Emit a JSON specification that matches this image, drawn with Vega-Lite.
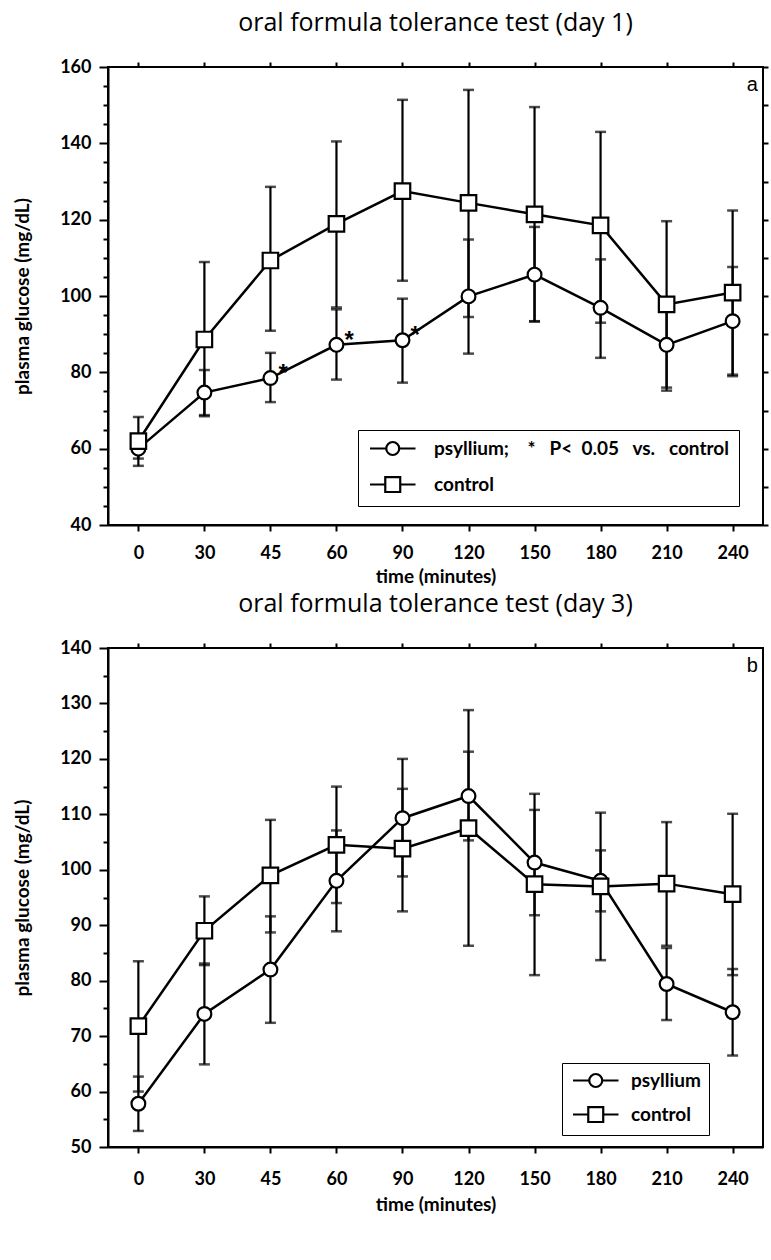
{
  "$schema": "https://vega.github.io/schema/vega-lite/v6.json",
  "padding": {"left": 12, "top": 10, "right": 5, "bottom": 5},
  "spacing": 4,
  "resolve": {"scale": {"shape": "independent"}, "legend": {"shape": "independent"}},
  "config": {
    "view": {"stroke": "black", "strokeWidth": 2},
    "font": "Lato",
    "title": {"font": "Open Sans", "fontSize": 25, "fontWeight": "normal", "color": "black", "offset": 22},
    "axis": {"domainColor": "black", "domainWidth": 2, "tickColor": "black", "tickWidth": 2, "labelColor": "black", "titleColor": "black", "grid": false, "labelFont": "Lato", "labelFontWeight": "bold", "labelFontSize": 18, "titleFont": "Lato", "titleFontWeight": "bold", "titleFontSize": 19}
  },
  "datasets": {
    "d": [
      {"panel": "a", "group": "psyllium", "time": 0, "mean": 60.0, "lo": 57.4, "hi": 62.6, "star": false},
      {"panel": "a", "group": "psyllium", "time": 30, "mean": 74.7, "lo": 68.8, "hi": 80.6, "star": false},
      {"panel": "a", "group": "psyllium", "time": 45, "mean": 78.5, "lo": 72.2, "hi": 85.1, "star": true},
      {"panel": "a", "group": "psyllium", "time": 60, "mean": 87.2, "lo": 78.1, "hi": 96.5, "star": true},
      {"panel": "a", "group": "psyllium", "time": 90, "mean": 88.4, "lo": 77.3, "hi": 99.3, "star": true},
      {"panel": "a", "group": "psyllium", "time": 120, "mean": 99.9, "lo": 84.9, "hi": 114.8, "star": false},
      {"panel": "a", "group": "psyllium", "time": 150, "mean": 105.6, "lo": 93.3, "hi": 118.1, "star": false},
      {"panel": "a", "group": "psyllium", "time": 180, "mean": 96.9, "lo": 83.8, "hi": 109.6, "star": false},
      {"panel": "a", "group": "psyllium", "time": 210, "mean": 87.2, "lo": 75.2, "hi": 99.2, "star": false},
      {"panel": "a", "group": "psyllium", "time": 240, "mean": 93.4, "lo": 79.0, "hi": 107.6, "star": false},
      {"panel": "a", "group": "control", "time": 0, "mean": 62.0, "lo": 55.5, "hi": 68.3, "star": false},
      {"panel": "a", "group": "control", "time": 30, "mean": 88.6, "lo": 68.5, "hi": 108.9, "star": false},
      {"panel": "a", "group": "control", "time": 45, "mean": 109.3, "lo": 90.9, "hi": 128.6, "star": false},
      {"panel": "a", "group": "control", "time": 60, "mean": 118.9, "lo": 97.0, "hi": 140.5, "star": false},
      {"panel": "a", "group": "control", "time": 90, "mean": 127.5, "lo": 104.0, "hi": 151.4, "star": false},
      {"panel": "a", "group": "control", "time": 120, "mean": 124.4, "lo": 94.5, "hi": 154.0, "star": false},
      {"panel": "a", "group": "control", "time": 150, "mean": 121.4, "lo": 93.4, "hi": 149.5, "star": false},
      {"panel": "a", "group": "control", "time": 180, "mean": 118.5, "lo": 93.0, "hi": 143.0, "star": false},
      {"panel": "a", "group": "control", "time": 210, "mean": 97.8, "lo": 76.0, "hi": 119.6, "star": false},
      {"panel": "a", "group": "control", "time": 240, "mean": 100.9, "lo": 79.4, "hi": 122.4, "star": false},
      {"panel": "b", "group": "psyllium", "time": 0, "mean": 57.8, "lo": 52.9, "hi": 62.7, "star": false},
      {"panel": "b", "group": "psyllium", "time": 30, "mean": 74.0, "lo": 64.9, "hi": 83.1, "star": false},
      {"panel": "b", "group": "psyllium", "time": 45, "mean": 82.0, "lo": 72.4, "hi": 91.6, "star": false},
      {"panel": "b", "group": "psyllium", "time": 60, "mean": 98.0, "lo": 88.9, "hi": 107.1, "star": false},
      {"panel": "b", "group": "psyllium", "time": 90, "mean": 109.3, "lo": 98.8, "hi": 120.0, "star": false},
      {"panel": "b", "group": "psyllium", "time": 120, "mean": 113.3, "lo": 105.3, "hi": 121.3, "star": false},
      {"panel": "b", "group": "psyllium", "time": 150, "mean": 101.3, "lo": 91.8, "hi": 110.8, "star": false},
      {"panel": "b", "group": "psyllium", "time": 180, "mean": 98.0, "lo": 92.5, "hi": 103.5, "star": false},
      {"panel": "b", "group": "psyllium", "time": 210, "mean": 79.4, "lo": 72.9, "hi": 85.9, "star": false},
      {"panel": "b", "group": "psyllium", "time": 240, "mean": 74.3, "lo": 66.5, "hi": 82.1, "star": false},
      {"panel": "b", "group": "control", "time": 0, "mean": 71.8, "lo": 60.0, "hi": 83.5, "star": false},
      {"panel": "b", "group": "control", "time": 30, "mean": 89.0, "lo": 82.8, "hi": 95.2, "star": false},
      {"panel": "b", "group": "control", "time": 45, "mean": 99.0, "lo": 88.7, "hi": 109.0, "star": false},
      {"panel": "b", "group": "control", "time": 60, "mean": 104.5, "lo": 94.0, "hi": 115.0, "star": false},
      {"panel": "b", "group": "control", "time": 90, "mean": 103.8, "lo": 92.5, "hi": 114.6, "star": false},
      {"panel": "b", "group": "control", "time": 120, "mean": 107.5, "lo": 86.3, "hi": 128.8, "star": false},
      {"panel": "b", "group": "control", "time": 150, "mean": 97.4, "lo": 81.0, "hi": 113.7, "star": false},
      {"panel": "b", "group": "control", "time": 180, "mean": 97.0, "lo": 83.7, "hi": 110.3, "star": false},
      {"panel": "b", "group": "control", "time": 210, "mean": 97.5, "lo": 86.3, "hi": 108.6, "star": false},
      {"panel": "b", "group": "control", "time": 240, "mean": 95.6, "lo": 81.0, "hi": 110.1, "star": false}
    ]
  },
  "vconcat": [
    {
      "width": 655,
      "height": 458,
      "title": {"text": "oral formula tolerance test (day 1)"},
      "data": {"name": "d"},
      "transform": [{"filter": "datum.panel === 'a'"}],
      "resolve": {"axis": {"x": "independent", "y": "independent"}},
      "layer": [
        {
          "mark": {"type": "point", "opacity": 0},
          "encoding": {
            "x": {"field": "time", "type": "ordinal", "scale": {"type": "point", "padding": 0.46},
              "axis": {"title": "time (minutes)", "labelAngle": 0, "tickSize": 6, "labelPadding": 13, "titlePadding": 5}},
            "y": {"field": "mean", "type": "quantitative", "scale": {"domain": [40, 160]},
              "axis": {"orient": "left", "title": "plasma glucose (mg/dL)", "values": [40, 60, 80, 100, 120, 140, 160], "tickSize": 9, "labelPadding": 8, "titlePadding": 27}}
          }
        },
        {
          "mark": {"type": "point", "opacity": 0},
          "encoding": {
            "y": {"field": "mean", "type": "quantitative", "scale": {"domain": [40, 160]},
              "axis": {"orient": "left", "labels": false, "title": null, "domain": false, "tickSize": 5, "values": [45, 50, 55, 65, 70, 75, 85, 90, 95, 105, 110, 115, 125, 130, 135, 145, 150, 155]}}
          }
        },
        {
          "mark": {"type": "point", "opacity": 0},
          "encoding": {
            "x": {"field": "time", "type": "ordinal", "scale": {"type": "point", "padding": 0.46},
              "axis": {"orient": "top", "labels": false, "title": null, "domain": false, "tickSize": 5}},
            "y": {"field": "mean", "type": "quantitative", "scale": {"domain": [40, 160]},
              "axis": {"orient": "right", "labels": false, "title": null, "domain": false, "tickSize": 5, "values": [40, 50, 60, 70, 80, 90, 100, 110, 120, 130, 140, 150, 160]}}
          }
        },
        {
          "encoding": {
            "x": {"field": "time", "type": "ordinal", "scale": {"type": "point", "padding": 0.46}, "axis": null}
          },
          "layer": [
            {
              "mark": {"type": "rule", "color": "black", "strokeWidth": 2.2},
              "encoding": {
                "y": {"field": "lo", "type": "quantitative", "scale": {"domain": [40, 160]}, "axis": null},
                "y2": {"field": "hi"}
              }
            },
            {
              "mark": {"type": "tick", "color": "black", "thickness": 2.5, "size": 11, "orient": "horizontal"},
              "encoding": {"y": {"field": "lo", "type": "quantitative", "scale": {"domain": [40, 160]}, "axis": null}}
            },
            {
              "mark": {"type": "tick", "color": "black", "thickness": 2.5, "size": 11, "orient": "horizontal"},
              "encoding": {"y": {"field": "hi", "type": "quantitative", "scale": {"domain": [40, 160]}, "axis": null}}
            },
            {
              "mark": {"type": "line", "color": "black", "strokeWidth": 2.5},
              "encoding": {"y": {"field": "mean", "type": "quantitative", "scale": {"domain": [40, 160]}, "axis": null}, "detail": {"field": "group", "type": "nominal"}}
            },
            {
              "transform": [{"filter": "datum.group === 'psyllium'"}],
              "mark": {"type": "point", "shape": "circle", "filled": true, "fill": "white", "stroke": "black", "strokeWidth": 2.2, "size": 190, "opacity": 1},
              "encoding": {"y": {"field": "mean", "type": "quantitative", "scale": {"domain": [40, 160]}, "axis": null}}
            },
            {
              "transform": [{"filter": "datum.group === 'control'"}],
              "mark": {"type": "point", "shape": "square", "filled": true, "fill": "white", "stroke": "black", "strokeWidth": 2.2, "size": 240, "opacity": 1},
              "encoding": {"y": {"field": "mean", "type": "quantitative", "scale": {"domain": [40, 160]}, "axis": null}}
            },
            {
              "transform": [{"filter": "datum.star"}],
              "mark": {"type": "text", "font": "Liberation Sans", "fontSize": 24, "fontWeight": "bold", "color": "black", "align": "left", "dx": 8, "dy": -4},
              "encoding": {"y": {"field": "mean", "type": "quantitative", "scale": {"domain": [40, 160]}, "axis": null}, "text": {"value": "*"}}
            },
            {
              "transform": [{"filter": "datum.time === 240 && datum.group === 'control'"}],
              "mark": {"type": "text", "font": "Liberation Sans", "fontSize": 20, "color": "black", "align": "left", "baseline": "middle", "dx": 14},
              "encoding": {"y": {"value": 18}, "text": {"value": "a"}}
            },
            {
              "transform": [{"filter": "datum.mean < 0"}],
              "mark": {"type": "point", "filled": false, "stroke": "black"},
              "encoding": {
                "y": {"field": "mean", "type": "quantitative", "scale": {"domain": [40, 160]}, "axis": null},
                "shape": {"field": "group", "type": "nominal",
                  "scale": {"domain": ["psyllium", "control"], "range": ["M-1,0L1.5,0M3.5,0L6,0M1.5,0A1,1 0 1,0 3.5,0A1,1 0 1,0 1.5,0Z", "M-1,0L1.35,0M3.65,0L6,0M1.35,-1.15L3.65,-1.15L3.65,1.15L1.35,1.15Z"]},
                  "legend": {"title": null, "orient": "none", "legendX": 250, "legendY": 363, "direction": "vertical",
                    "labelExpr": "datum.label === 'psyllium' ? 'psyllium;\u00a0\u00a0\u00a0 *\u00a0\u00a0 P<\u00a0 0.05\u00a0\u00a0 vs.\u00a0\u00a0 control\u00a0\u00a0' : 'control'",
                    "labelFont": "Lato", "labelFontWeight": "bold", "labelFontSize": 19, "labelColor": "black", "labelLimit": 500, "labelOffset": 48,
                    "symbolSize": 169, "symbolStrokeColor": "black", "symbolFillColor": "white", "symbolStrokeWidth": 2.2, "symbolOpacity": 1,
                    "strokeColor": "black", "fillColor": "white", "padding": 9, "rowPadding": 12}}
              }
            }
          ]
        }
      ]
    },
    {
      "width": 655,
      "height": 499,
      "title": {"text": "oral formula tolerance test (day 3)", "offset": 22},
      "data": {"name": "d"},
      "transform": [{"filter": "datum.panel === 'b'"}],
      "resolve": {"axis": {"x": "independent", "y": "independent"}},
      "layer": [
        {
          "mark": {"type": "point", "opacity": 0},
          "encoding": {
            "x": {"field": "time", "type": "ordinal", "scale": {"type": "point", "padding": 0.46},
              "axis": {"title": "time (minutes)", "labelAngle": 0, "tickSize": 6, "labelPadding": 17, "titlePadding": 7}},
            "y": {"field": "mean", "type": "quantitative", "scale": {"domain": [50, 140]},
              "axis": {"orient": "left", "title": "plasma glucose (mg/dL)", "values": [50, 60, 70, 80, 90, 100, 110, 120, 130, 140], "tickSize": 9, "labelPadding": 8, "titlePadding": 27}}
          }
        },
        {
          "mark": {"type": "point", "opacity": 0},
          "encoding": {
            "x": {"field": "time", "type": "ordinal", "scale": {"type": "point", "padding": 0.46},
              "axis": {"orient": "top", "labels": false, "title": null, "domain": false, "tickSize": 5}},
            "y": {"field": "mean", "type": "quantitative", "scale": {"domain": [50, 140]},
              "axis": {"orient": "left", "labels": false, "title": null, "domain": false, "tickSize": 5, "values": [55, 65, 75, 85, 95, 105, 115, 125, 135]}}
          }
        },
        {
          "encoding": {
            "x": {"field": "time", "type": "ordinal", "scale": {"type": "point", "padding": 0.46}, "axis": null}
          },
          "layer": [
            {
              "mark": {"type": "rule", "color": "black", "strokeWidth": 2.2},
              "encoding": {
                "y": {"field": "lo", "type": "quantitative", "scale": {"domain": [50, 140]}, "axis": null},
                "y2": {"field": "hi"}
              }
            },
            {
              "mark": {"type": "tick", "color": "black", "thickness": 2.5, "size": 11, "orient": "horizontal"},
              "encoding": {"y": {"field": "lo", "type": "quantitative", "scale": {"domain": [50, 140]}, "axis": null}}
            },
            {
              "mark": {"type": "tick", "color": "black", "thickness": 2.5, "size": 11, "orient": "horizontal"},
              "encoding": {"y": {"field": "hi", "type": "quantitative", "scale": {"domain": [50, 140]}, "axis": null}}
            },
            {
              "mark": {"type": "line", "color": "black", "strokeWidth": 2.5},
              "encoding": {"y": {"field": "mean", "type": "quantitative", "scale": {"domain": [50, 140]}, "axis": null}, "detail": {"field": "group", "type": "nominal"}}
            },
            {
              "transform": [{"filter": "datum.group === 'psyllium'"}],
              "mark": {"type": "point", "shape": "circle", "filled": true, "fill": "white", "stroke": "black", "strokeWidth": 2.2, "size": 190, "opacity": 1},
              "encoding": {"y": {"field": "mean", "type": "quantitative", "scale": {"domain": [50, 140]}, "axis": null}}
            },
            {
              "transform": [{"filter": "datum.group === 'control'"}],
              "mark": {"type": "point", "shape": "square", "filled": true, "fill": "white", "stroke": "black", "strokeWidth": 2.2, "size": 240, "opacity": 1},
              "encoding": {"y": {"field": "mean", "type": "quantitative", "scale": {"domain": [50, 140]}, "axis": null}}
            },
            {
              "transform": [{"filter": "datum.time === 240 && datum.group === 'control'"}],
              "mark": {"type": "text", "font": "Liberation Sans", "fontSize": 20, "color": "black", "align": "left", "baseline": "middle", "dx": 14},
              "encoding": {"y": {"value": 18}, "text": {"value": "b"}}
            },
            {
              "transform": [{"filter": "datum.mean < 0"}],
              "mark": {"type": "point", "filled": false, "stroke": "black"},
              "encoding": {
                "y": {"field": "mean", "type": "quantitative", "scale": {"domain": [50, 140]}, "axis": null},
                "shape": {"field": "group", "type": "nominal",
                  "scale": {"domain": ["psyllium", "control"], "range": ["M-1,0L1.5,0M3.5,0L6,0M1.5,0A1,1 0 1,0 3.5,0A1,1 0 1,0 1.5,0Z", "M-1,0L1.35,0M3.65,0L6,0M1.35,-1.15L3.65,-1.15L3.65,1.15L1.35,1.15Z"]},
                  "legend": {"title": null, "orient": "none", "legendX": 454, "legendY": 415, "direction": "vertical",
                    "labelFont": "Lato", "labelFontWeight": "bold", "labelFontSize": 19, "labelColor": "black", "labelLimit": 500, "labelOffset": 42,
                    "symbolSize": 169, "symbolStrokeColor": "black", "symbolFillColor": "white", "symbolStrokeWidth": 2.2, "symbolOpacity": 1,
                    "strokeColor": "black", "fillColor": "white", "padding": 8, "rowPadding": 10}}
              }
            }
          ]
        }
      ]
    }
  ]
}
